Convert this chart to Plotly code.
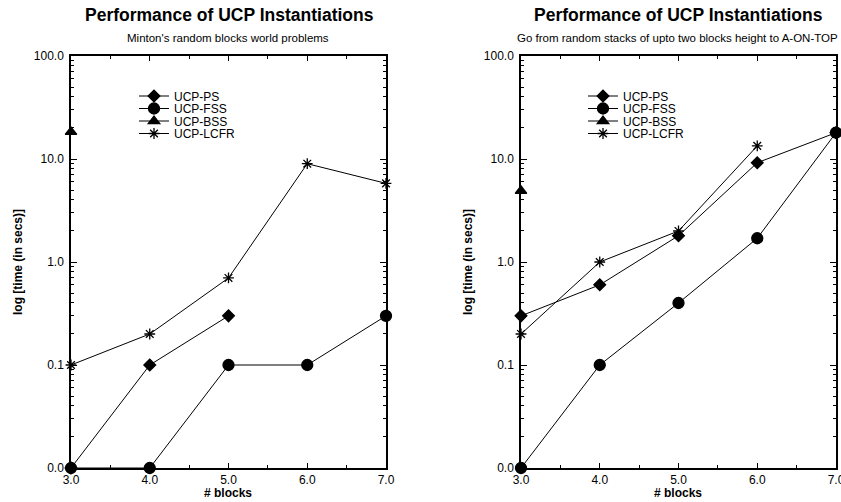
import plotly.graph_objects as go

# ---- data ----
blocks = [3, 4, 5, 6, 7]

# Left: Minton's random blocks world problems
left_ps_x = [3, 4, 5]
left_ps_y = [0.01, 0.1, 0.3]
left_fss_x = [3, 4, 5, 6, 7]
left_fss_y = [0.01, 0.01, 0.1, 0.1, 0.3]
left_bss_x = [3]
left_bss_y = [18.3]
left_lcfr_x = [3, 4, 5, 6, 7]
left_lcfr_y = [0.1, 0.2, 0.7, 9.0, 5.8]

# Right: stacks of up to two blocks -> A-ON-TOP
right_ps_x = [3, 4, 5, 6, 7]
right_ps_y = [0.3, 0.6, 1.8, 9.2, 18.0]
right_fss_x = [3, 4, 5, 6, 7]
right_fss_y = [0.01, 0.1, 0.4, 1.7, 18.0]
right_bss_x = [3]
right_bss_y = [4.9]
right_lcfr_x = [3, 4, 5, 6]
right_lcfr_y = [0.2, 1.0, 2.0, 13.4]

series_names = ["UCP-PS", "UCP-FSS", "UCP-BSS", "UCP-LCFR"]
y_tickvals = [0.01, 0.1, 1, 10, 100]
y_ticktext = ["0.0", "0.1", "1.0", "10.0", "100.0"]
x_tickvals = [3, 4, 5, 6, 7]
x_ticktext = ["3.0", "4.0", "5.0", "6.0", "7.0"]

title_text = "Performance of UCP Instantiations"
left_sub = "Minton's random blocks world problems"
right_sub = "Go from random stacks of upto two blocks height to A-ON-TOP"
x_title = "# blocks"
y_title = "log [time (in secs)]"

FONT = "Liberation Sans, Arial, Helvetica, sans-serif"
W, H = 841, 502

symbols = ["diamond", "circle", "triangle-up", "asterisk-open"]
sizes = [9, 11, 10, 9]
legend_rows = [96, 108.5, 121, 133.5]

fig = go.Figure()

def add_panel(data, xa, ya, legend_ids):
    for (xs, ys), name, sym, sz, lg in zip(data, series_names, symbols, sizes, legend_ids):
        fig.add_trace(go.Scatter(
            x=xs, y=ys, name=name, mode="lines+markers",
            line=dict(color="black", width=1),
            marker=dict(symbol=sym, size=sz, color="black",
                        line=dict(color="black", width=1.3)),
            xaxis=xa, yaxis=ya, legend=lg, cliponaxis=False,
        ))

add_panel([(left_ps_x, left_ps_y), (left_fss_x, left_fss_y),
           (left_bss_x, left_bss_y), (left_lcfr_x, left_lcfr_y)],
          "x", "y", ["legend", "legend2", "legend3", "legend4"])
add_panel([(right_ps_x, right_ps_y), (right_fss_x, right_fss_y),
           (right_bss_x, right_bss_y), (right_lcfr_x, right_lcfr_y)],
          "x2", "y2", ["legend5", "legend6", "legend7", "legend8"])

minor_vals = [k * 10 ** e for e in range(-2, 2) for k in range(2, 10)]

def xaxis_cfg(domain, anchor):
    return dict(
        domain=domain, anchor=anchor, range=[3, 7], automargin=False,
        tickvals=x_tickvals, ticktext=x_ticktext, ticklabeloverflow="allow",
        ticks="inside", ticklen=5, tickwidth=1, tickcolor="black",
        minor=dict(tickvals=[3.5, 4.5, 5.5, 6.5], ticks="inside", ticklen=3,
                   tickcolor="black", showgrid=False),
        showline=True, linecolor="black", linewidth=1.5, mirror="ticks",
        showgrid=False, zeroline=False,
        tickfont=dict(family=FONT, size=12, color="black"),
    )

def yaxis_cfg(domain, anchor):
    return dict(
        domain=domain, anchor=anchor, type="log", range=[-2, 2], automargin=False,
        tickvals=y_tickvals, ticktext=y_ticktext, ticklabeloverflow="allow",
        ticks="inside", ticklen=6, tickwidth=1, tickcolor="black",
        minor=dict(tickvals=minor_vals, ticks="inside", ticklen=3,
                   tickcolor="black", showgrid=False),
        showline=True, linecolor="black", linewidth=1.5, mirror="ticks",
        showgrid=False, zeroline=False, ticklabelstandoff=3,
        tickfont=dict(family=FONT, size=12, color="black"),
    )

def legend_cfg(xpx, ypx):
    return dict(x=xpx / W, y=1 - ypx / H, xanchor="left", yanchor="middle",
                bgcolor="rgba(0,0,0,0)", borderwidth=0,
                font=dict(family=FONT, size=12, color="black"),
                itemwidth=30)

ytop = 1 - 56 / H
ybot = 1 - 468 / H

layout_legends = {}
names = ["legend", "legend2", "legend3", "legend4",
         "legend5", "legend6", "legend7", "legend8"]
for i, nm in enumerate(names):
    xpx = 134 if i < 4 else 583
    layout_legends[nm] = legend_cfg(xpx, legend_rows[i % 4])

def ann(text, xpx, ypx, size, bold=False, angle=0):
    return dict(text=("<b>%s</b>" % text) if bold else text,
                x=xpx / W, y=1 - ypx / H, xref="paper", yref="paper",
                xanchor="center", yanchor="middle", showarrow=False,
                textangle=angle,
                font=dict(family=FONT, size=size, color="black"))

fig.update_layout(
    width=W, height=H,
    margin=dict(l=0, r=0, t=0, b=0, autoexpand=False),
    paper_bgcolor="white", plot_bgcolor="white",
    showlegend=True,
    xaxis=xaxis_cfg([71 / W, 386 / W], "y"),
    yaxis=yaxis_cfg([ybot, ytop], "x"),
    xaxis2=xaxis_cfg([521 / W, 836 / W], "y2"),
    yaxis2=yaxis_cfg([ybot, ytop], "x2"),
    annotations=[
        ann(title_text, 229, 15, 17.5, bold=True),
        ann(title_text, 678, 15, 17.5, bold=True),
        ann(left_sub, 228, 38, 11.5),
        ann(right_sub, 677, 38, 11.5),
        ann(x_title, 228, 493, 12, bold=True),
        ann(x_title, 678, 493, 12, bold=True),
        ann(y_title, 18, 262, 12, bold=True, angle=-90),
        ann(y_title, 468, 262, 12, bold=True, angle=-90),
    ],
    **layout_legends,
)

fig.write_html("out.html")
